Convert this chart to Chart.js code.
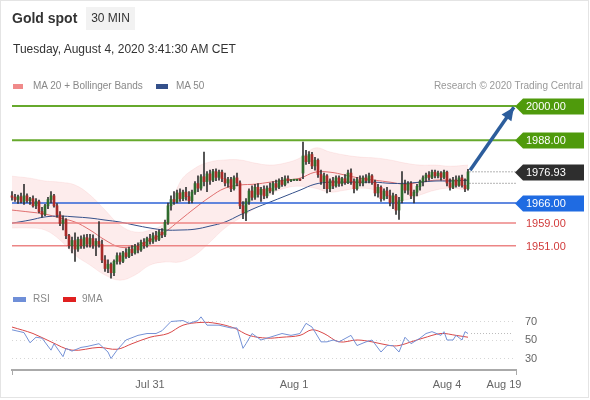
<!DOCTYPE html>
<html>
<head>
<meta charset="utf-8">
<script src="https://cdn.jsdelivr.net/npm/chart.js@4.4.1/dist/chart.umd.min.js"></script>
<style>
  body { margin: 0; background: #fff; font-family: "Liberation Sans", Arial, sans-serif; }
  #wrap { position: relative; width: 590px; height: 400px; overflow: hidden; }
  #frame { position: absolute; left: 0; top: 0; width: 589px; height: 398px; box-sizing: border-box; border: 1px solid #e4e4e4; }
  canvas { position: absolute; left: 0; }
  #price { top: 0; }
  #rsi { top: 290px; }
  .t { position: absolute; white-space: nowrap; line-height: 1; }
  #title { left: 12px; top: 11px; font-size: 14px; font-weight: bold; color: #333; }
  #tf { left: 86px; top: 7px; width: 49px; height: 23px; background: #f2f2f2; font-size: 12px; color: #333; line-height: 23px; text-align: center; }
  #date { left: 13px; top: 43px; font-size: 12px; color: #333; }
  .lg { font-size: 10px; color: #888; }
  .sw { position: absolute; height: 5px; }
</style>
</head>
<body>
<div id="wrap">
  <div id="frame"></div>
  <canvas id="price" width="590" height="290"></canvas>
  <canvas id="rsi" width="590" height="110"></canvas>

  <div class="t" id="title">Gold spot</div>
  <div class="t" id="tf">30 MIN</div>
  <div class="t" id="date">Tuesday, August 4, 2020 3:41:30 AM CET</div>

  <div class="sw" style="left:13px;top:84px;width:10px;background:#f08a8a"></div>
  <div class="t lg" style="left:33px;top:81px">MA 20 + Bollinger Bands</div>
  <div class="sw" style="left:156px;top:84px;width:12px;background:#34508a"></div>
  <div class="t lg" style="left:176px;top:81px">MA 50</div>
  <div class="t lg" style="right:7px;top:81px;color:#999">Research © 2020 Trading Central</div>

  <div class="sw" style="left:13px;top:297px;width:13px;background:#6f8fd8"></div>
  <div class="t lg" style="left:33px;top:294px">RSI</div>
  <div class="sw" style="left:63px;top:297px;width:13px;background:#e02020"></div>
  <div class="t lg" style="left:82px;top:294px">9MA</div>
</div>

<script>
// 30 min candles, index 0 = Jul 30 ~01:00, last = Aug 4 03:30
const opens = [
  1968.5,1968.0,1967.2,1968.2,1966.5,1968.5,1966.8,1967.5,1965.0,1966.5,
  1963.0,1962.0,1965.0,1967.2,1968.5,1965.0,1961.8,1958.8,1960.0,1954.5,
  1951.0,1952.8,1949.8,1953.2,1951.0,1953.8,1951.5,1953.5,1951.2,1952.5,
  1951.5,1946.0,1943.0,1944.5,1941.5,1945.5,1947.5,1945.5,1948.5,1947.2,
  1949.8,1948.5,1950.8,1949.5,1952.2,1951.0,1953.5,1952.5,1954.5,1953.2,
  1955.8,1954.8,1959.2,1965.0,1967.2,1966.5,1969.5,1967.5,1969.8,1968.2,
  1966.8,1969.8,1972.8,1971.2,1975.2,1973.5,1976.2,1974.0,1977.0,1975.0,
  1976.8,1974.5,1973.0,1974.2,1971.0,1974.8,1973.0,1965.0,1962.5,1966.5,
  1970.2,1968.0,1971.5,1969.0,1970.8,1968.5,1971.2,1970.2,1972.8,1971.5,
  1973.8,1972.5,1974.5,1973.8,1974.0,1974.0,1974.1,1976.5,1982.5,1980.5,
  1983.0,1979.0,1981.0,1976.0,1973.5,1975.5,1971.0,1973.8,1972.0,1974.8,
  1972.8,1974.5,1973.2,1976.5,1973.5,1971.0,1974.2,1973.0,1974.8,1973.8,
  1975.5,1973.2,1969.5,1971.5,1967.5,1970.2,1968.5,1966.2,1968.5,1963.5,
  1966.8,1972.5,1970.5,1972.8,1968.5,1969.8,1971.8,1973.5,1974.8,1975.8,
  1975.0,1976.8,1975.5,1976.5,1975.0,1976.8,1973.0,1971.5,1974.0,1972.2,
  1974.8,1972.2,1971.0
];
const highs = [
  1970.0,1969.0,1968.8,1969.5,1972.5,1969.2,1968.0,1968.5,1967.5,1967.0,
  1964.5,1965.5,1968.0,1970.0,1969.0,1965.8,1963.0,1961.5,1960.5,1955.0,
  1954.0,1955.5,1954.0,1954.5,1954.8,1955.0,1955.0,1954.8,1953.5,1959.5,
  1953.0,1947.5,1946.0,1945.0,1946.0,1948.5,1948.5,1949.0,1950.0,1950.5,
  1951.0,1951.5,1952.0,1953.0,1953.5,1954.0,1955.0,1955.5,1956.0,1956.5,
  1957.0,1960.0,1966.0,1968.5,1970.0,1970.5,1971.0,1970.5,1971.5,1970.0,
  1970.5,1973.5,1975.5,1976.0,1983.9,1977.0,1977.5,1977.8,1978.0,1977.5,
  1977.5,1976.5,1975.0,1975.0,1975.5,1976.5,1973.8,1966.5,1967.5,1971.0,
  1972.0,1972.5,1972.8,1971.5,1972.0,1972.0,1973.0,1973.5,1974.0,1974.5,
  1975.0,1975.5,1975.5,1974.2,1974.2,1974.3,1974.5,1987.4,1984.5,1984.0,
  1983.8,1982.0,1981.5,1977.5,1976.5,1976.0,1974.5,1975.0,1975.5,1975.5,
  1975.0,1976.0,1977.5,1978.0,1974.5,1975.0,1975.5,1975.5,1976.0,1976.5,
  1976.0,1974.0,1972.5,1972.0,1971.0,1971.5,1970.5,1969.5,1969.0,1968.0,
  1977.0,1974.0,1973.5,1973.5,1970.5,1972.5,1974.0,1975.5,1976.5,1977.0,
  1977.5,1977.5,1977.2,1977.0,1977.5,1977.2,1974.5,1975.0,1975.5,1975.5,
  1975.8,1974.5,1977.8
];
const lows = [
  1967.0,1966.5,1965.8,1966.0,1965.5,1966.2,1965.5,1964.5,1964.0,1962.5,
  1961.0,1961.5,1964.0,1966.0,1964.5,1961.0,1958.0,1956.5,1953.5,1950.0,
  1948.5,1945.5,1949.0,1950.0,1950.0,1950.5,1950.5,1950.0,1947.5,1950.5,
  1945.0,1942.0,1941.5,1939.6,1940.5,1944.5,1944.5,1945.0,1946.5,1946.8,
  1947.5,1948.0,1948.5,1949.0,1950.0,1950.5,1951.5,1951.8,1952.5,1952.8,
  1953.8,1954.2,1958.5,1963.5,1965.5,1966.0,1966.5,1966.8,1967.0,1965.8,
  1966.0,1969.0,1970.0,1970.5,1972.0,1970.0,1972.5,1973.5,1973.8,1974.0,
  1973.5,1972.0,1971.5,1970.0,1970.5,1972.0,1964.0,1960.5,1959.8,1965.5,
  1967.0,1967.2,1968.0,1966.5,1967.5,1967.8,1969.5,1969.0,1970.5,1971.0,
  1971.8,1972.0,1973.0,1973.5,1973.8,1973.8,1973.8,1974.5,1979.5,1979.8,
  1978.0,1977.5,1975.0,1972.5,1971.0,1969.5,1970.0,1971.0,1971.5,1971.8,
  1972.0,1972.5,1972.8,1972.5,1969.5,1970.5,1972.0,1972.0,1973.0,1973.0,
  1972.5,1968.5,1968.0,1966.5,1967.0,1967.5,1965.0,1964.0,1962.0,1960.2,
  1966.0,1969.5,1969.0,1967.5,1966.0,1968.5,1970.5,1972.0,1973.5,1974.0,
  1974.5,1974.8,1974.8,1974.0,1974.5,1972.0,1970.5,1971.0,1971.5,1971.8,
  1971.5,1970.0,1970.5
];
const closes = [
  1968.0,1967.2,1968.2,1966.5,1968.5,1966.8,1967.5,1965.0,1966.5,1963.0,
  1962.0,1965.0,1967.2,1968.5,1965.0,1961.8,1958.8,1960.0,1954.5,1951.0,
  1952.8,1949.8,1953.2,1951.0,1953.8,1951.5,1953.5,1951.2,1952.5,1951.5,
  1946.0,1943.0,1944.5,1941.5,1945.5,1947.5,1945.5,1948.5,1947.2,1949.8,
  1948.5,1950.8,1949.5,1952.2,1951.0,1953.5,1952.5,1954.5,1953.2,1955.8,
  1954.8,1959.2,1965.0,1967.2,1966.5,1969.5,1967.5,1969.8,1968.2,1966.8,
  1969.8,1972.8,1971.2,1975.2,1973.5,1976.2,1974.0,1977.0,1975.0,1976.8,
  1974.5,1973.0,1974.2,1971.0,1974.8,1973.0,1965.0,1962.5,1966.5,1970.2,
  1968.0,1971.5,1969.0,1970.8,1968.5,1971.2,1970.2,1972.8,1971.5,1973.8,
  1972.5,1974.5,1973.8,1974.0,1974.0,1974.1,1974.0,1982.5,1980.5,1983.0,
  1979.0,1981.0,1976.0,1973.5,1975.5,1971.0,1973.8,1972.0,1974.8,1972.8,
  1974.5,1973.2,1976.5,1973.5,1971.0,1974.2,1973.0,1974.8,1973.8,1975.5,
  1973.2,1969.5,1971.5,1967.5,1970.2,1968.5,1966.2,1968.5,1963.5,1966.8,
  1972.5,1970.5,1972.8,1968.5,1969.8,1971.8,1973.5,1974.8,1975.8,1975.0,
  1976.8,1975.5,1976.5,1975.0,1976.8,1973.0,1971.5,1974.0,1972.2,1974.8,
  1972.2,1971.0,1976.93
];

// indicator lines at these candle slots
const bandIdx = [0,6,11,16,21,26,31,36,41,46,51,56,61,66,71,76,81,86,91,96,101,106,111,116,121,126,131,136,141,146,152];
const bbUpper = [1975.4,1974.7,1973.7,1973.3,1972.3,1968.8,1963.5,1958.2,1955.8,1956.5,1959.3,1973.3,1978.2,1980.4,1981.1,1981.1,1980.0,1979.3,1980.0,1981.8,1985.3,1983.9,1982.8,1982.1,1981.8,1981.1,1980.0,1979.3,1979.3,1978.9,1979.3];
const bbLower = [1957.2,1957.2,1956.5,1953.0,1947.7,1944.2,1940.7,1938.9,1940.7,1944.2,1945.3,1945.3,1947.7,1952.3,1957.2,1960.7,1964.2,1968.8,1971.2,1971.9,1971.2,1969.8,1970.5,1971.2,1970.5,1967.7,1967.0,1968.8,1970.5,1971.2,1970.5];
const ma20 = [1963.5,1962.8,1962.1,1960.7,1959.3,1956.5,1953.0,1950.5,1950.9,1953.0,1955.8,1960.0,1964.2,1968.1,1971.2,1972.3,1972.6,1973.3,1974.0,1974.7,1976.8,1976.8,1975.8,1974.7,1974.0,1973.3,1972.6,1973.3,1974.0,1974.0,1974.0];
const ma50 = [1958.9,1960.0,1961.1,1961.4,1961.1,1960.7,1960.0,1959.3,1958.2,1957.2,1956.5,1956.5,1956.8,1957.9,1959.3,1961.8,1964.2,1966.3,1968.4,1970.5,1972.6,1973.3,1973.3,1973.3,1973.3,1972.9,1972.9,1973.3,1973.7,1973.7,1974.0];

const rsiIdx = [0,4,6,8,10,13,14,17,18,20,23,25,29,32,33,35,38,42,45,48,50,53,57,59,62,63,65,69,73,75,77,78,80,83,85,90,93,96,98,100,103,105,107,109,113,115,118,120,123,125,127,129,131,133,136,138,140,143,144,145,147,148,150,151,152];
const rsiVals = [61,58,47,53,52,39,46,32,41,38,42,43,46,37,30,39,50,55,57,57,60,70,71,68,71,75,66,66,63,63,41,46,57,50,52,57,55,57,68,64,48,48,50,48,55,44,48,50,37,44,44,37,53,46,52,57,59,55,59,50,50,55,50,59,57];
const ma9Idx = [0,7,13,20,29,35,40,46,52,57,63,68,74,79,85,90,96,100,104,109,115,120,126,129,133,137,143,148,152];
const ma9Vals = [64,57,48,39,42,40,46,53,57,66,69,68,63,55,52,53,55,61,57,48,50,48,44,44,48,52,57,55,53];

// key levels
const levelValues = [2000, 1988, 1976.93, 1966, 1959, 1951];
const levelTypes = ['resistance', 'resistance', 'last', 'pivot', 'support', 'support'];
const lastMarks = [1976.93, 1972.9];
const arrowX = [152.7, 167.3];
const arrowY = [1977.5, 1999.6];

// x axis
const tickIdx = [46, 94, 145, 164];
const tickLabels = ['Jul 31', 'Aug 1', 'Aug 4', 'Aug 19'];
const xMax = 168;

const FONT = '"Liberation Sans", Arial, sans-serif';
Chart.defaults.font.family = FONT;

const levelStyle = {
  resistance: { line: '#66a92c', width: 2, box: '#4f9a0c', text: '#fff' },
  last:       { line: null, box: '#2e2e2e', text: '#fff' },
  pivot:      { line: '#2d62d6', width: 1.5, box: '#1f6be2', text: '#fff' },
  support:    { line: '#ec8585', width: 1.5, box: null, text: '#d13b3b' }
};

const pts = (xs, ys) => xs.map((x, k) => ({ x: x, y: ys[k] }));

const levelPlugin = {
  id: 'levels',
  afterDatasetsDraw(chart) {
    const { ctx, chartArea, scales } = chart;
    ctx.save();

    // arrow head
    const meta = chart.getDatasetMeta(0);
    const p0 = meta.data[0], p1 = meta.data[1];
    const ang = Math.atan2(p1.y - p0.y, p1.x - p0.x);
    ctx.fillStyle = '#2c5d9c';
    ctx.beginPath();
    ctx.moveTo(p1.x, p1.y);
    ctx.lineTo(p1.x - 13 * Math.cos(ang) + 6 * Math.sin(ang), p1.y - 13 * Math.sin(ang) - 6 * Math.cos(ang));
    ctx.lineTo(p1.x - 13 * Math.cos(ang) - 6 * Math.sin(ang), p1.y - 13 * Math.sin(ang) + 6 * Math.cos(ang));
    ctx.closePath();
    ctx.fill();

    // right side tags
    ctx.font = '11px ' + FONT;
    ctx.textBaseline = 'middle';
    const x = chartArea.right - 1;
    levelValues.forEach((v, k) => {
      const st = levelStyle[levelTypes[k]];
      const y = Math.round(scales.y.getPixelForValue(v)) + 0.5;
      if (st.box) {
        ctx.fillStyle = st.box;
        ctx.beginPath();
        ctx.moveTo(x, y);
        ctx.lineTo(x + 8, y - 8);
        ctx.lineTo(x + 69, y - 8);
        ctx.lineTo(x + 69, y + 8);
        ctx.lineTo(x + 8, y + 8);
        ctx.closePath();
        ctx.fill();
      }
      ctx.fillStyle = st.text;
      ctx.fillText(v.toFixed(2), x + 11, y + 0.5);
    });
    ctx.restore();
  }
};

const datasets = [
  { type: 'line', data: pts(arrowX, arrowY), borderColor: '#2c5d9c', borderWidth: 3.5,
    pointRadius: 0, order: 0, clip: false },
  { type: 'bar', data: closes.map((c, i) => ({ x: i, y: [opens[i], c] })),
    backgroundColor: closes.map((c, i) => c >= opens[i] ? '#2f6c2e' : '#a82a28'),
    barThickness: 2, minBarLength: 1, grouped: false, order: 1, clip: 4 },
  { type: 'bar', data: highs.map((h, i) => ({ x: i, y: [lows[i], h] })),
    backgroundColor: '#333', barThickness: 1, grouped: false, order: 2, clip: 4 }
];

lastMarks.forEach(v => {
  datasets.push({ type: 'line', data: [{ x: 152.5, y: v }, { x: xMax, y: v }],
    borderColor: '#666', borderWidth: 1, borderDash: [1, 2], pointRadius: 0, order: 3 });
});

levelValues.forEach((v, k) => {
  const st = levelStyle[levelTypes[k]];
  if (!st.line) return;
  datasets.push({ type: 'line', data: [{ x: 0, y: v }, { x: xMax, y: v }],
    borderColor: st.line, borderWidth: st.width, pointRadius: 0, order: 4 });
});

datasets.push(
  { type: 'line', data: pts(bandIdx, ma50), borderColor: '#34508a', borderWidth: 1,
    pointRadius: 0, tension: 0.4, order: 5 },
  { type: 'line', data: pts(bandIdx, ma20), borderColor: '#e07070', borderWidth: 1,
    pointRadius: 0, tension: 0.4, order: 5 },
  { type: 'line', data: pts(bandIdx, bbUpper), borderColor: 'rgba(240,150,150,0.15)', borderWidth: 1,
    backgroundColor: 'rgba(245,140,140,0.17)', fill: '+1', pointRadius: 0, tension: 0.4, order: 6 },
  { type: 'line', data: pts(bandIdx, bbLower), borderColor: 'rgba(240,150,150,0.15)', borderWidth: 1,
    pointRadius: 0, tension: 0.4, order: 6 }
);

new Chart(document.getElementById('price'), {
  type: 'bar',
  data: { datasets: datasets },
  options: {
    responsive: false,
    animation: false,
    layout: { padding: { left: 12, right: 74, top: 95, bottom: 5 } },
    plugins: { legend: { display: false }, tooltip: { enabled: false } },
    scales: {
      x: { type: 'linear', min: 0, max: xMax, display: false, offset: false },
      y: { min: 1937.2, max: 2003.9, display: false }
    }
  },
  plugins: [levelPlugin]
});

new Chart(document.getElementById('rsi'), {
  type: 'line',
  data: {
    datasets: [
      { data: pts(rsiIdx, rsiVals), borderColor: '#7592d6', borderWidth: 1, pointRadius: 0, tension: 0 },
      { data: pts(ma9Idx, ma9Vals), borderColor: '#d94848', borderWidth: 1, pointRadius: 0, tension: 0.35 },
      { data: [{ x: 153, y: rsiVals[rsiVals.length - 1] }, { x: 167, y: rsiVals[rsiVals.length - 1] }],
        borderColor: '#bbb', borderWidth: 1, borderDash: [1, 2], pointRadius: 0 }
    ]
  },
  options: {
    responsive: false,
    animation: false,
    layout: { padding: { left: 12, right: 0, top: 20, bottom: 0 } },
    plugins: { legend: { display: false }, tooltip: { enabled: false } },
    scales: {
      x: {
        type: 'linear', min: 0, max: xMax,
        afterBuildTicks: s => { s.ticks = [0, ...tickIdx, xMax].map(v => ({ value: v })); },
        afterFit: s => { s.height = 30; },
        grid: { drawOnChartArea: false, tickLength: 5,
                color: c => (c.tick && (c.tick.value === 0 || c.tick.value === xMax)) ? '#aaa' : 'rgba(0,0,0,0)' },
        border: { color: '#aaa', width: 2 },
        ticks: { autoSkip: false, maxRotation: 0, color: '#666', font: { size: 11 }, padding: 3,
                 callback: v => { const k = tickIdx.indexOf(v); return k < 0 ? '' : tickLabels[k]; } }
      },
      y: {
        position: 'right', min: 17.6, max: 82.4,
        afterBuildTicks: s => { s.ticks = [30, 50, 70].map(v => ({ value: v })); },
        afterFit: s => { s.width = 74; },
        grid: { color: '#d6d6d6', drawTicks: false },
        border: { display: false, dash: [1, 3] },
        ticks: { color: '#666', font: { size: 11 }, padding: 9 }
      }
    }
  }
});
</script>
</body>
</html>
